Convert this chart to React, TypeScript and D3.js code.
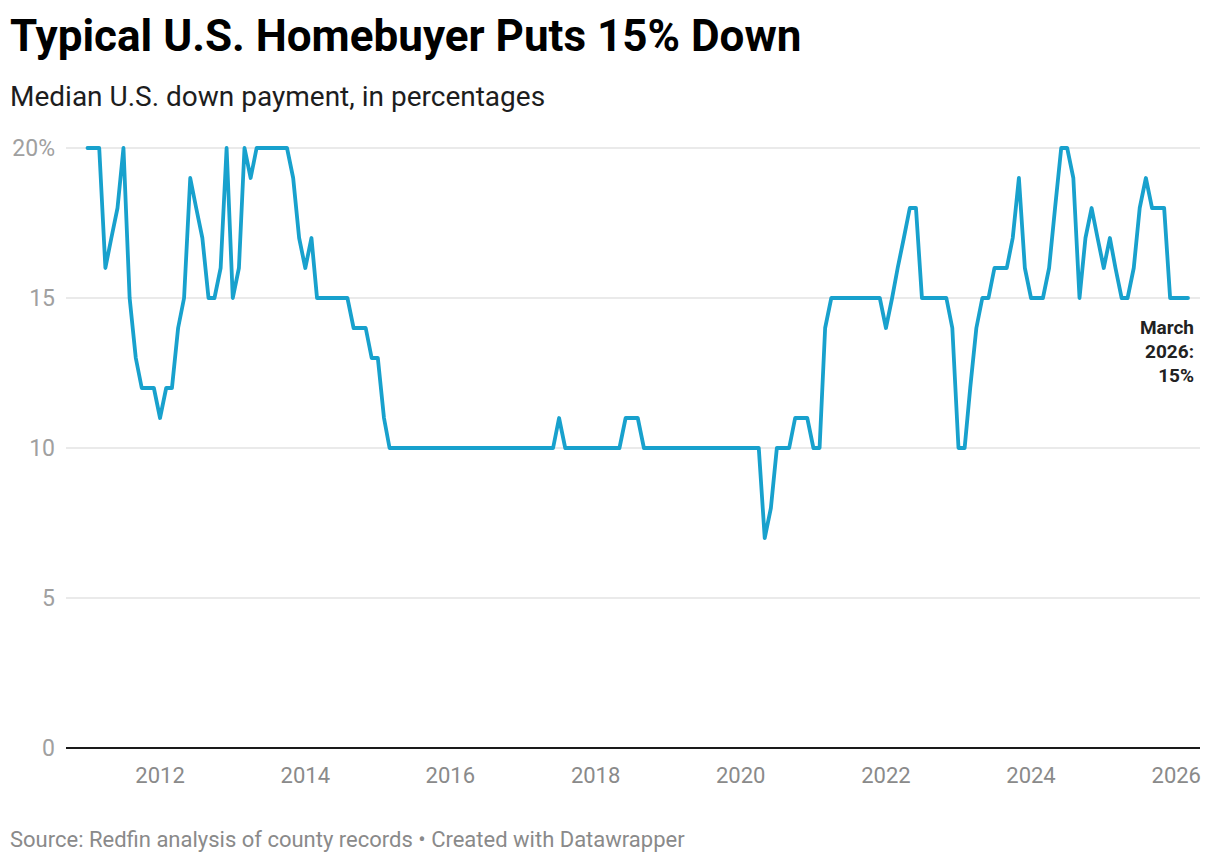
import * as d3 from "d3";

// median down payment (%), one array per calendar year, Jan..Dec
const v2011 = [20, 20, 20, 16, 17, 18, 20, 15, 13, 12, 12, 12];
const v2012 = [11, 12, 12, 14, 15, 19, 18, 17, 15, 15, 16, 20];
const v2013 = [15, 16, 20, 19, 20, 20, 20, 20, 20, 20, 19, 17];
const v2014 = [16, 17, 15, 15, 15, 15, 15, 15, 14, 14, 14, 13];
const v2015 = [13, 11, 10, 10, 10, 10, 10, 10, 10, 10, 10, 10];
const v2016 = [10, 10, 10, 10, 10, 10, 10, 10, 10, 10, 10, 10];
const v2017 = [10, 10, 10, 10, 10, 10, 11, 10, 10, 10, 10, 10];
const v2018 = [10, 10, 10, 10, 10, 11, 11, 11, 10, 10, 10, 10];
const v2019 = [10, 10, 10, 10, 10, 10, 10, 10, 10, 10, 10, 10];
const v2020 = [10, 10, 10, 10, 7, 8, 10, 10, 10, 11, 11, 11];
const v2021 = [10, 10, 14, 15, 15, 15, 15, 15, 15, 15, 15, 15];
const v2022 = [14, 15, 16, 17, 18, 18, 15, 15, 15, 15, 15, 14];
const v2023 = [10, 10, 12, 14, 15, 15, 16, 16, 16, 17, 19, 16];
const v2024 = [15, 15, 15, 16, 18, 20, 20, 19, 15, 17, 18, 17];
const v2025 = [16, 17, 16, 15, 15, 16, 18, 19, 18, 18, 18, 15];
const v2026 = [15, 15, 15];

const years = [
  v2011, v2012, v2013, v2014, v2015, v2016, v2017, v2018,
  v2019, v2020, v2021, v2022, v2023, v2024, v2025, v2026,
];
const firstYear = 2011;
const yTicks = [0, 5, 10, 15, 20];

type Point = { date: Date; value: number };

const series: Point[] = years.flatMap((vals, yi) =>
  vals.map((value, m) => ({ date: new Date(firstYear + yi, m, 1), value }))
);
const last = series[series.length - 1];

const W = 1220;
const H = 864;
const FONT = "Roboto, 'Noto Sans', sans-serif";

export default function App() {
  const x = d3
    .scaleTime()
    .domain([series[0].date, last.date])
    .range([87.5, 1188]);
  const y = d3.scaleLinear().domain([0, 20]).range([748, 148]);

  const line = d3
    .line<Point>()
    .x((d) => x(d.date))
    .y((d) => y(d.value));

  const xTicks = x.ticks(d3.timeYear.every(2)!);

  return (
    <svg
      width={W}
      height={H}
      style={{ position: "absolute", left: 0, top: 0, background: "#fff" }}
      fontFamily={FONT}
    >
      <text x={10} y={51} fontSize={44} fontWeight={700} fill="#000">
        Typical U.S. Homebuyer Puts 15% Down
      </text>
      <text x={10} y={106} fontSize={28} fill="#1d1d1d">
        Median U.S. down payment, in percentages
      </text>

      {yTicks.map((t) => (
        <g key={t}>
          {t > 0 && (
            <line x1={66} x2={1200} y1={y(t)} y2={y(t)} stroke="#e3e3e3" strokeWidth={1.5} />
          )}
          <text
            x={55}
            y={y(t)}
            dy="0.35em"
            textAnchor="end"
            fontSize={23}
            fill="#a0a0a0"
          >
            {t === 20 ? "20%" : t}
          </text>
        </g>
      ))}

      <line x1={66} x2={1200} y1={y(0)} y2={y(0)} stroke="#1a1a1a" strokeWidth={2} />

      {xTicks.map((d) => (
        <text
          key={d.getFullYear()}
          x={x(d)}
          y={775}
          dy="0.35em"
          textAnchor="middle"
          fontSize={22}
          fill="#8a8a8a"
        >
          {d.getFullYear()}
        </text>
      ))}

      <path
        d={line(series) ?? ""}
        fill="none"
        stroke="#18a1cd"
        strokeWidth={3.8}
        strokeLinejoin="round"
        strokeLinecap="round"
      />

      <text
        x={1194}
        y={y(last.value) + 36}
        textAnchor="end"
        fontSize={19}
        fontWeight={700}
        fill="#222"
      >
        <tspan x={1194}>March</tspan>
        <tspan x={1194} dy={24}>2026:</tspan>
        <tspan x={1194} dy={24}>{last.value}%</tspan>
      </text>

      <text x={10} y={847} fontSize={22} fill="#8a8a8a">
        Source: Redfin analysis of county records • Created with Datawrapper
      </text>
    </svg>
  );
}
